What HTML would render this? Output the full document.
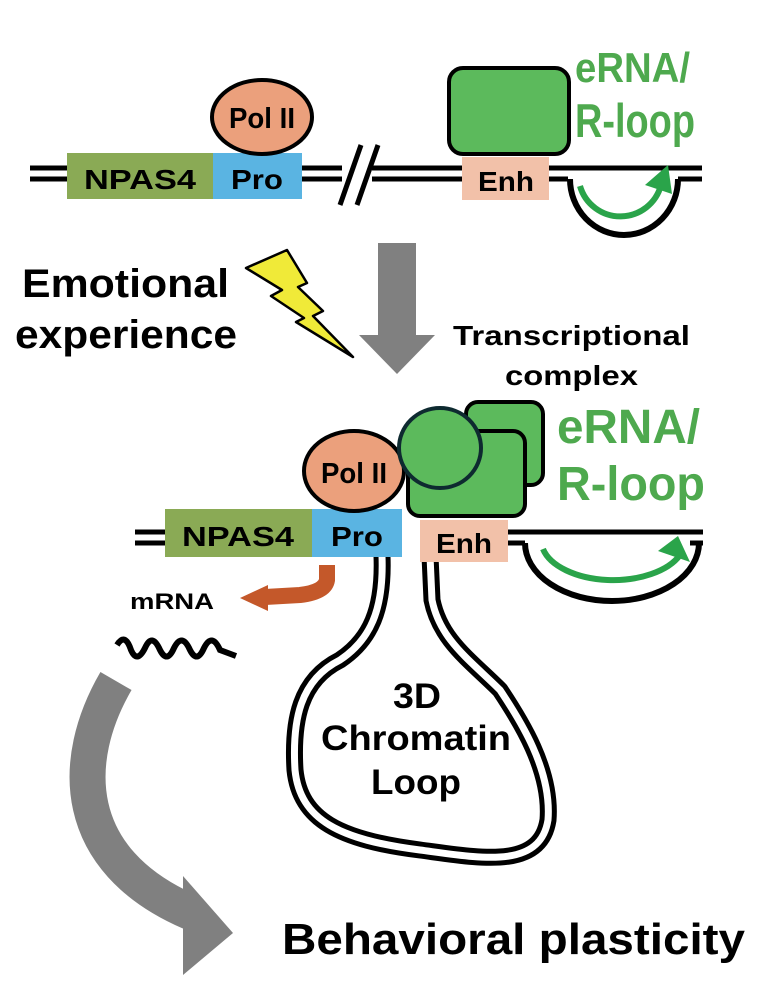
<!DOCTYPE html>
<html><head><meta charset="utf-8"><style>
html,body{margin:0;padding:0;background:#fff;}
svg{display:block;}
text{font-family:"Liberation Sans",Arial,sans-serif;font-weight:bold;}
</style></head><body>
<svg width="766" height="1008" viewBox="0 0 766 1008" xmlns="http://www.w3.org/2000/svg">
<!-- TOP DNA -->
<g stroke="#000" stroke-width="5">
<line x1="30" y1="168" x2="342" y2="168"/><line x1="30" y1="179" x2="342" y2="179"/>
<line x1="372" y1="168" x2="702" y2="168"/><line x1="372" y1="179" x2="568" y2="179"/>
<line x1="678" y1="179" x2="702" y2="179"/>
<line x1="357" y1="205" x2="378" y2="145"/><line x1="340" y1="205" x2="361" y2="145"/>
</g>
<rect x="67" y="153" width="146" height="46" fill="#8aaa55"/>
<rect x="213" y="153" width="89" height="46" fill="#5ab4e2"/>
<text x="140" y="189" font-size="28" text-anchor="middle" textLength="112" lengthAdjust="spacingAndGlyphs">NPAS4</text>
<text x="257" y="189" font-size="28" text-anchor="middle" textLength="52" lengthAdjust="spacingAndGlyphs">Pro</text>
<ellipse cx="262" cy="117" rx="50" ry="37" fill="#eba07c" stroke="#000" stroke-width="4"/>
<text x="262" y="128" font-size="29" text-anchor="middle" textLength="66" lengthAdjust="spacingAndGlyphs">Pol II</text>
<rect x="462" y="157" width="87" height="43" fill="#f2c1a9"/>
<text x="506" y="191" font-size="28" text-anchor="middle" textLength="56" lengthAdjust="spacingAndGlyphs">Enh</text>
<rect x="449" y="68" width="120" height="86" rx="14" fill="#5cba5c" stroke="#000" stroke-width="4"/>
<text x="575" y="82" font-size="42" fill="#4ea94e" textLength="115" lengthAdjust="spacingAndGlyphs">eRNA/</text>
<text x="575" y="137" font-size="47" fill="#4ea94e" textLength="120" lengthAdjust="spacingAndGlyphs">R-loop</text>
<path d="M570 179 A54 56 0 0 0 678 179" fill="none" stroke="#000" stroke-width="6"/>
<path d="M580 186 A42 42 0 0 0 661 185" fill="none" stroke="#2aa44a" stroke-width="6"/>
<polygon points="645,185 668,165 672,194" fill="#2aa44a"/>
<!-- middle -->
<rect x="378" y="243" width="38" height="93" fill="#808080"/>
<polygon points="359,335 435,335 397,374" fill="#808080"/>
<text x="22" y="297" font-size="40" textLength="207" lengthAdjust="spacingAndGlyphs">Emotional</text>
<text x="15" y="348" font-size="40" textLength="222" lengthAdjust="spacingAndGlyphs">experience</text>
<polygon points="246,268 287,250 307,283 298,287 323,311 313,316 353,357 296,322 304,318 271,296 282,290" fill="#f0ea38" stroke="#000" stroke-width="2.5" stroke-linejoin="round"/>
<text x="453" y="345" font-size="28" textLength="237" lengthAdjust="spacingAndGlyphs">Transcriptional</text>
<text x="505" y="385" font-size="28" textLength="133" lengthAdjust="spacingAndGlyphs">complex</text>
<!-- BOTTOM -->
<g stroke="#000" stroke-width="5">
<line x1="135" y1="532" x2="170" y2="532"/><line x1="135" y1="543" x2="170" y2="543"/>
<line x1="505" y1="532" x2="703" y2="532"/><line x1="505" y1="543" x2="525" y2="543"/>
<line x1="690" y1="543" x2="703" y2="543"/>
</g>
<!-- chromatin loop -->
<path d="M382 556 C384 610 370 640 340 660 C300 680 292 720 295 770 C300 820 340 840 420 850 C480 858 540 870 548 820 C552 770 520 720 500 690 C470 660 440 640 432 600 L430 556" fill="none" stroke="#000" stroke-width="17"/>
<path d="M382 556 C384 610 370 640 340 660 C300 680 292 720 295 770 C300 820 340 840 420 850 C480 858 540 870 548 820 C552 770 520 720 500 690 C470 660 440 640 432 600 L430 556" fill="none" stroke="#fff" stroke-width="7"/>
<rect x="165" y="509" width="147" height="48" fill="#8aaa55"/>
<rect x="312" y="509" width="90" height="48" fill="#5ab4e2"/>
<text x="238" y="546" font-size="28" text-anchor="middle" textLength="112" lengthAdjust="spacingAndGlyphs">NPAS4</text>
<text x="357" y="546" font-size="28" text-anchor="middle" textLength="52" lengthAdjust="spacingAndGlyphs">Pro</text>
<ellipse cx="354" cy="471" rx="50" ry="40" fill="#eba07c" stroke="#000" stroke-width="4"/>
<text x="354" y="483" font-size="29" text-anchor="middle" textLength="66" lengthAdjust="spacingAndGlyphs">Pol II</text>
<rect x="420" y="520" width="88" height="42" fill="#f2c1a9"/>
<text x="464" y="553" font-size="28" text-anchor="middle" textLength="56" lengthAdjust="spacingAndGlyphs">Enh</text>
<rect x="466" y="402" width="77" height="83" rx="12" fill="#5cba5c" stroke="#000" stroke-width="4"/>
<rect x="408" y="431" width="117" height="85" rx="12" fill="#5cba5c" stroke="#000" stroke-width="4"/>
<ellipse cx="440" cy="448" rx="41" ry="40" fill="#5cba5c" stroke="#0e2a30" stroke-width="4"/>
<text x="557" y="443" font-size="48" fill="#4ea94e" textLength="143" lengthAdjust="spacingAndGlyphs">eRNA/</text>
<text x="557" y="500" font-size="48" fill="#4ea94e" textLength="148" lengthAdjust="spacingAndGlyphs">R-loop</text>
<path d="M525 543 A87 58 0 0 0 699 543" fill="none" stroke="#000" stroke-width="6"/>
<path d="M543 549 A72 40 0 0 0 680 555" fill="none" stroke="#2aa44a" stroke-width="6"/>
<polygon points="658,551 678,536 690,562" fill="#2aa44a"/>
<!-- orange arrow -->
<path d="M327 565 L327 580 Q325 592 300 595 L265 597" fill="none" stroke="#c4582a" stroke-width="16"/>
<polygon points="268,585 268,611 240,598" fill="#c4582a"/>
<text x="130" y="609" font-size="22" textLength="84" lengthAdjust="spacingAndGlyphs">mRNA</text>
<path d="M117 645 Q125 632 131 650 Q137 664 145 648 Q152 632 160 650 Q167 664 174 648 Q182 632 190 650 Q197 664 204 648 Q212 632 220 650 L236 656" fill="none" stroke="#000" stroke-width="6"/>
<!-- gray curved arrow -->
<path d="M116 681 C70 760 70 860 190 912" fill="none" stroke="#808080" stroke-width="36"/>
<polygon points="183,876 233,933 183,975" fill="#808080"/>
<text x="282" y="954" font-size="44" textLength="463" lengthAdjust="spacingAndGlyphs">Behavioral plasticity</text>
<text x="417" y="708" font-size="35" text-anchor="middle" textLength="48" lengthAdjust="spacingAndGlyphs">3D</text>
<text x="416" y="750" font-size="35" text-anchor="middle" textLength="190" lengthAdjust="spacingAndGlyphs">Chromatin</text>
<text x="416" y="794" font-size="35" text-anchor="middle" textLength="90" lengthAdjust="spacingAndGlyphs">Loop</text>
</svg>
</body></html>
